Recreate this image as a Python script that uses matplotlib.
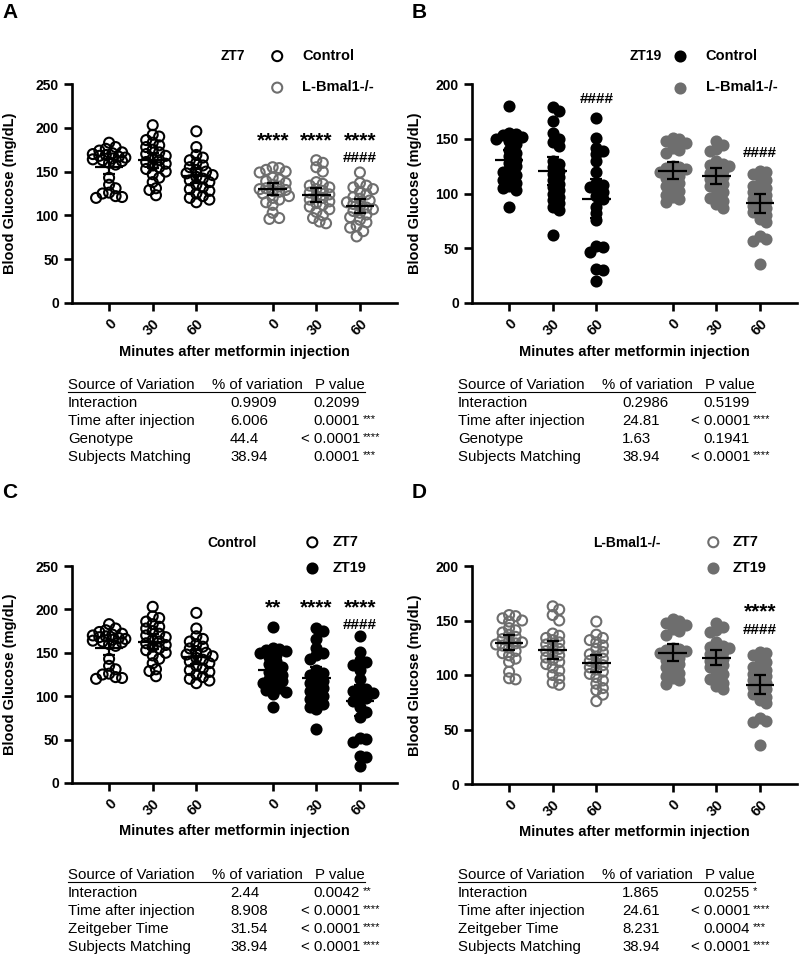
import numpy as np
import matplotlib.pyplot as plt
from matplotlib.lines import Line2D

plt.rcParams['font.family'] = ['Liberation Sans', 'DejaVu Sans']

W, H = 800, 956

# blood glucose (mg/dL) after metformin injection, 0 / 30 / 60 min
ctrl_zt7_0 = [183, 178, 176, 174, 172, 171, 170, 169, 168, 167, 166, 165, 164,
              163, 162, 160, 158, 143, 135, 131, 126, 122, 120, 121, 125]
ctrl_zt7_30 = [203, 192, 190, 186, 183, 180, 178, 175, 172, 170, 168, 165, 163,
               161, 159, 157, 155, 153, 150, 147, 143, 138, 131, 129, 123]
ctrl_zt7_60 = [196, 178, 169, 166, 163, 160, 157, 155, 152, 150, 148, 146, 144,
               142, 140, 138, 135, 132, 130, 128, 125, 122, 120, 118, 115]

bmal_zt7_0 = [155, 154, 152, 150, 149, 143, 141, 139, 137, 135, 133, 131, 130,
              129, 128, 127, 125, 122, 120, 118, 115, 112, 103, 97, 96]
bmal_zt7_30 = [163, 160, 155, 150, 138, 136, 134, 132, 130, 128, 126, 124, 122,
               120, 118, 116, 114, 112, 110, 107, 104, 100, 97, 93, 91]
bmal_zt7_60 = [149, 137, 134, 132, 130, 127, 124, 121, 119, 117, 115, 113, 111,
               109, 107, 105, 103, 101, 98, 95, 92, 88, 86, 82, 76]

ctrl_zt19_0 = [180, 155, 154, 153, 152, 150, 148, 145, 140, 137, 134, 131,
               128, 125, 122, 120, 117, 115, 112, 110, 107, 105, 103, 88]
ctrl_zt19_30 = [179, 175, 166, 155, 150, 147, 143, 130, 127, 124, 121, 118,
                115, 112, 109, 106, 103, 100, 97, 94, 91, 88, 85, 62]
ctrl_zt19_60 = [169, 151, 142, 139, 136, 130, 120, 110, 108, 106, 104, 101,
                98, 95, 88, 82, 76, 52, 51, 47, 31, 30, 20]

bmal_zt19_0 = [151, 150, 148, 146, 142, 140, 137, 125, 123, 124, 122, 120,
               118, 116, 114, 112, 110, 107, 104, 102, 99, 97, 95, 92]
bmal_zt19_30 = [148, 144, 141, 139, 126, 125, 130, 127, 124, 121, 119, 117,
                115, 113, 111, 109, 107, 104, 101, 98, 96, 93, 90, 87]
bmal_zt19_60 = [121, 120, 118, 115, 112, 109, 107, 105, 103, 101, 99, 97, 95,
                93, 91, 89, 87, 85, 83, 80, 77, 74, 61, 58, 57, 36]

ctrl_zt7 = [ctrl_zt7_0, ctrl_zt7_30, ctrl_zt7_60]
bmal_zt7 = [bmal_zt7_0, bmal_zt7_30, bmal_zt7_60]
ctrl_zt19 = [ctrl_zt19_0, ctrl_zt19_30, ctrl_zt19_60]
bmal_zt19 = [bmal_zt19_0, bmal_zt19_30, bmal_zt19_60]

time_labels = ['0', '30', '60']

# ANOVA tables
rows_ab = ['Interaction', 'Time after injection', 'Genotype', 'Subjects Matching']
rows_cd = ['Interaction', 'Time after injection', 'Zeitgeber Time', 'Subjects Matching']
pct_a = ['0.9909', '6.006', '44.4', '38.94']
p_a = ['0.2099', '0.0001', '< 0.0001', '0.0001']
star_a = ['', '***', '****', '***']
pct_b = ['0.2986', '24.81', '1.63', '38.94']
p_b = ['0.5199', '< 0.0001', '0.1941', '< 0.0001']
star_b = ['', '****', '', '****']
pct_c = ['2.44', '8.908', '31.54', '38.94']
p_c = ['0.0042', '< 0.0001', '< 0.0001', '< 0.0001']
star_c = ['**', '****', '****', '****']
pct_d = ['1.865', '24.61', '8.231', '38.94']
p_d = ['0.0255', '< 0.0001', '0.0004', '< 0.0001']
star_d = ['*', '****', '***', '****']

BLACK = '#000000'
GREY = '#6e6e6e'
x_pos = [1, 2, 3, 4.75, 5.75, 6.75]

fig = plt.figure(figsize=(W / 100, H / 100), dpi=100)


def fpos(x, y):
    return x / W, 1 - y / H


def swarm_x(ax, xc, vals, d=6.5, wmax=19.0):
    # simple beeswarm: spread points sideways (in pixels) so they overlap less
    sx = ax.bbox.width / np.diff(ax.get_xlim())[0]
    sy = ax.bbox.height / np.diff(ax.get_ylim())[0]
    vals = np.asarray(vals, float)
    steps = [0.0]
    for k in range(1, 12):
        steps += [k * d / 2, -k * d / 2]
    steps = [s for s in steps if abs(s) <= wmax]
    placed = []
    off = np.zeros(len(vals))
    for i in np.argsort(vals)[::-1]:
        y = vals[i] * sy
        best, best_gap = 0.0, -1.0
        for s in steps:
            gap = min([np.hypot(s - a, y - b) for a, b in placed] or [1e9])
            if gap >= d:
                best = s
                break
            if gap > best_gap:
                best, best_gap = s, gap
        placed.append((best, y))
        off[i] = best / sx
    return xc + off


def panel(rect, ymax, groups, letter, letter_xy, title, title_x, title_y,
          leg_labels, leg_x, leg_y, leg_pad, leg_space, ylab_x, notes):
    ax = fig.add_axes(rect)
    ax.set_xlim(0.15, 7.6)
    ax.set_ylim(0, ymax)
    for sp in ['top', 'right']:
        ax.spines[sp].set_visible(False)
    for sp in ['left', 'bottom']:
        ax.spines[sp].set_linewidth(1.9)
    ax.tick_params(direction='out', length=6, width=1.9, labelsize=10)
    ax.tick_params(axis='x', labelsize=10.5)
    ax.set_yticks(np.arange(0, ymax + 1, 50))
    ax.set_xticks(x_pos)
    ax.set_xticklabels(time_labels * 2, rotation=45, ha='right',
                       rotation_mode='anchor', fontweight='bold')
    for t in ax.get_yticklabels():
        t.set_fontweight('bold')

    handles = []
    for g, (series, color, filled) in enumerate(groups):
        for k, vals in enumerate(series):
            xc = x_pos[g * 3 + k]
            xs = swarm_x(ax, xc, vals)
            sc = ax.scatter(xs, vals, s=52, marker='o',
                            facecolors=color if filled else 'none',
                            edgecolors=color, linewidths=1.5, clip_on=False, zorder=3)
            if k == 0:
                handles.append(sc)
            m = np.mean(vals)
            ci = 2.06 * np.std(vals, ddof=1) / np.sqrt(len(vals))
            ax.hlines(m, xc - 0.33, xc + 0.33, color='black', lw=1.6, zorder=4)
            ax.errorbar(xc, m, yerr=ci, fmt='none', ecolor='black', elinewidth=1.6,
                        capsize=4.3, capthick=1.6, zorder=4)

    for xi, yv, txt in notes:
        size = 15 if txt.startswith('*') else 11
        ax.text(x_pos[xi], yv, txt, ha='center', va='baseline', fontsize=size,
                fontweight='bold')

    ax.set_ylabel('Blood Glucose (mg/dL)', fontsize=10.5, fontweight='bold')
    ax.yaxis.set_label_coords(ylab_x, 0.5)
    ax.set_xlabel('Minutes after metformin injection', fontsize=10.5,
                  fontweight='bold')
    ax.xaxis.set_label_coords(0.5, -0.19)

    ax.text(title_x, title_y, title, transform=ax.transAxes, va='center',
            fontsize=10, fontweight='bold')
    ax.legend(handles, leg_labels, loc='upper left', bbox_to_anchor=(leg_x, leg_y),
              frameon=False, borderaxespad=0, borderpad=0, handlelength=1.0,
              handletextpad=leg_pad, labelspacing=leg_space, scatterpoints=1,
              prop={'size': 10.5, 'weight': 'bold'})

    fig.text(*fpos(*letter_xy), letter, fontsize=15, fontweight='bold',
             va='top', ha='left')
    return ax


def table(x0, xpct_h, xpct, xp, y0, rows, pct, pv, stars):
    fs = 10.8
    heads = [(x0, 'Source of Variation'), (xpct_h, '% of variation'), (xp - 45, 'P value')]
    for x, t in heads:
        fig.text(*fpos(x, y0), t, fontsize=fs, va='center', ha='left')
    fig.add_artist(Line2D([x0 / W, (xp + 5) / W], [1 - (y0 + 7) / H] * 2,
                          color='black', lw=0.8))
    for i, r in enumerate(rows):
        y = y0 + 18 * (i + 1)
        fig.text(*fpos(x0, y), r, fontsize=fs, va='center', ha='left')
        fig.text(*fpos(xpct, y), pct[i], fontsize=fs, va='center', ha='left')
        fig.text(*fpos(xp, y), pv[i], fontsize=fs, va='center', ha='right')
        if stars[i]:
            fig.text(*fpos(xp + 3, y - 2), stars[i], fontsize=8, va='center',
                     ha='left')


rect_a = [72 / W, 1 - 303 / H, 325 / W, 219 / H]
rect_b = [472 / W, 1 - 303 / H, 325 / W, 219 / H]
rect_c = [72 / W, 1 - 783 / H, 325 / W, 217 / H]
rect_d = [472 / W, 1 - 784 / H, 325 / W, 218 / H]

panel(rect_a, 250, [(ctrl_zt7, BLACK, False), (bmal_zt7, GREY, False)],
      'A', (2, 3), 'ZT7', 0.458, 1.13, ['Control', 'L-Bmal1-/-'],
      0.609, 1.16, 1.2, 1.2, -0.17,
      [(3, 179, '****'), (4, 179, '****'), (5, 179, '****'), (5, 161, '####')])
panel(rect_b, 200, [(ctrl_zt19, BLACK, True), (bmal_zt19, GREY, True)],
      'B', (412, 3), 'ZT19', 0.486, 1.13, ['Control', 'L-Bmal1-/-'],
      0.618, 1.16, 1.25, 1.2, -0.155,
      [(2, 183, '####'), (5, 133, '####')])
panel(rect_c, 250, [(ctrl_zt7, BLACK, False), (ctrl_zt19, BLACK, True)],
      'C', (2, 483), 'Control', 0.418, 1.105, ['ZT7', 'ZT19'],
      0.717, 1.142, 0.92, 0.8, -0.17,
      [(3, 195, '**'), (4, 195, '****'), (5, 195, '****'), (5, 177, '####')])
panel(rect_d, 200, [(bmal_zt7, GREY, False), (bmal_zt19, GREY, True)],
      'D', (412, 483), 'L-Bmal1-/-', 0.372, 1.105, ['ZT7', 'ZT19'],
      0.72, 1.142, 0.85, 0.8, -0.155,
      [(5, 153, '****'), (5, 138, '####')])

table(68, 212, 230, 360, 385, rows_ab, pct_a, p_a, star_a)
table(458, 602, 622, 750, 385, rows_ab, pct_b, p_b, star_b)
table(68, 212, 230, 360, 875, rows_cd, pct_c, p_c, star_c)
table(458, 602, 622, 750, 875, rows_cd, pct_d, p_d, star_d)

fig.savefig('out.png', dpi=100, facecolor='white')
